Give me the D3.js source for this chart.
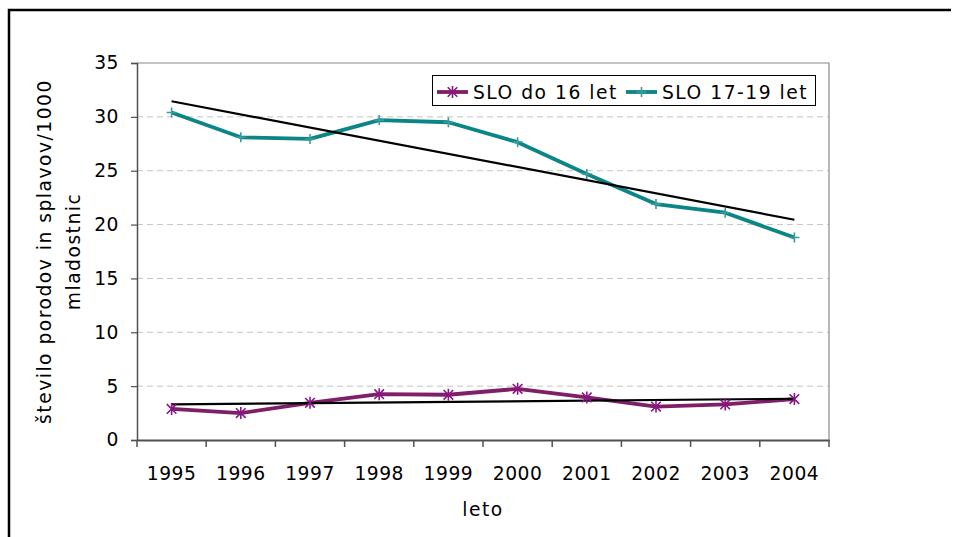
<!DOCTYPE html>
<html>
<head>
<meta charset="utf-8">
<script src="https://cdn.jsdelivr.net/npm/d3@7"></script>
<style>
  html, body { margin: 0; padding: 0; background: #ffffff; }
  svg { display: block; }
  text { font-family: "DejaVu Sans", Verdana, sans-serif; fill: #000; }
</style>
</head>
<body>
<svg id="chart" width="960" height="537"></svg>
<script>
// Years on the category axis
const years = ["1995", "1996", "1997", "1998", "1999", "2000", "2001", "2002", "2003", "2004"];

// Births and abortions per 1000 adolescents
const under16 = [2.88, 2.5, 3.45, 4.25, 4.2, 4.75, 3.95, 3.1, 3.3, 3.8];
const age17to19 = [30.4, 28.1, 27.95, 29.7, 29.5, 27.65, 24.7, 21.9, 21.1, 18.8];

// Linear trend lines: value at the first and at the last year
const trendUnder16 = [3.3, 3.83];
const trendAge17to19 = [31.45, 20.45];

// Value axis ticks
const yTicks = [0, 5, 10, 15, 20, 25, 30, 35];

// Legend labels
const seriesNames = ["SLO do 16 let", "SLO 17-19 let"];

const svg = d3.select("#chart");
const W = 960, H = 537;
const plot = { left: 137, right: 829, top: 63, bottom: 440 };
const fontSize = 18.7;
const wordSpacing = 1.5;   // letter spacing for words
const digitSpacing = 0.5;  // letter spacing for numbers

const purpleLine = "#7e1f68";
const purpleMark = "#8a1585";
const tealLine = "#0b8585";
const tealMark = "#3a9c9c";

// Outer frame (top and left edges)
svg.append("path")
  .attr("d", `M9,${H} L9,10 L951,10`)
  .attr("fill", "none")
  .attr("stroke", "#000")
  .attr("stroke-width", 2.5);

const x = d3.scaleBand().domain(years).range([plot.left, plot.right]).padding(0);
const cx = d => x(d) + x.bandwidth() / 2;
const y = d3.scaleLinear().domain([0, 35]).range([plot.bottom, plot.top]);

// Dashed gridlines
svg.append("g")
  .selectAll("line")
  .data(yTicks.filter(v => v > 0 && v < 35))
  .join("line")
  .attr("x1", plot.left).attr("x2", plot.right)
  .attr("y1", d => y(d)).attr("y2", d => y(d))
  .attr("stroke", "#c4c4c4")
  .attr("stroke-width", 1)
  .attr("stroke-dasharray", "6,4");

// Plot area border (top and right)
svg.append("path")
  .attr("d", `M${plot.left},${y(35)} L${plot.right},${y(35)} L${plot.right},${plot.bottom}`)
  .attr("fill", "none")
  .attr("stroke", "#8a8a8a")
  .attr("stroke-width", 1.2);

// Y axis
const yAxis = svg.append("g")
  .attr("transform", `translate(${plot.left},0)`)
  .call(d3.axisLeft(y).tickValues(yTicks).tickSize(6).tickPadding(12).tickFormat(d3.format("d")));
yAxis.select(".domain").attr("stroke", "#505050").attr("stroke-width", 1.5);
yAxis.selectAll(".tick line").attr("stroke", "#505050").attr("stroke-width", 1.2);
yAxis.selectAll(".tick text")
  .attr("font-size", fontSize)
  .attr("font-family", "DejaVu Sans, Verdana, sans-serif")
  .attr("letter-spacing", digitSpacing)
  .attr("fill", "#000");

// X axis: labels centred in each category, ticks on the boundaries
const xAxis = svg.append("g")
  .attr("transform", `translate(0,${plot.bottom})`)
  .call(d3.axisBottom(x).tickSize(0).tickPadding(0));
xAxis.select(".domain").attr("stroke", "#505050").attr("stroke-width", 2);
xAxis.selectAll(".tick text")
  .attr("font-size", fontSize)
  .attr("font-family", "DejaVu Sans, Verdana, sans-serif")
  .attr("letter-spacing", digitSpacing)
  .attr("fill", "#000")
  .attr("y", 40)
  .attr("dy", 0);
const boundaries = years.map(d => x(d)).concat([x(years[years.length - 1]) + x.bandwidth()]);
xAxis.append("g")
  .selectAll("line")
  .data(boundaries)
  .join("line")
  .attr("x1", d => d).attr("x2", d => d)
  .attr("y1", 0).attr("y2", 7)
  .attr("stroke", "#505050")
  .attr("stroke-width", 1.5);

// Axis titles
svg.append("text")
  .attr("x", (plot.left + plot.right) / 2)
  .attr("y", 516)
  .attr("text-anchor", "middle")
  .attr("font-size", fontSize)
  .attr("letter-spacing", wordSpacing)
  .text("leto");

const yMid = (plot.top + plot.bottom) / 2;
const yTitle = svg.append("g");
yTitle.append("text")
  .attr("transform", `translate(51,${yMid}) rotate(-90)`)
  .attr("text-anchor", "middle")
  .attr("font-size", fontSize)
  .attr("letter-spacing", wordSpacing)
  .text("število porodov in splavov/1000");
yTitle.append("text")
  .attr("transform", `translate(80,${yMid}) rotate(-90)`)
  .attr("text-anchor", "middle")
  .attr("font-size", fontSize)
  .attr("letter-spacing", wordSpacing)
  .text("mladostnic");

// Marker drawing helpers
function plusMarker(g, px, py, color, size) {
  g.append("path")
    .attr("d", `M${px - size},${py} L${px + size},${py} M${px},${py - size} L${px},${py + size}`)
    .attr("stroke", color).attr("stroke-width", 1.6).attr("fill", "none");
}
function starMarker(g, px, py, color, size) {
  const d = size * 0.8;
  g.append("path")
    .attr("d", `M${px},${py - size} L${px},${py + size} M${px - d},${py - d} L${px + d},${py + d} M${px - d},${py + d} L${px + d},${py - d}`)
    .attr("stroke", color).attr("stroke-width", 1.6).attr("fill", "none");
}

const line = d3.line().x(d => cx(d.year)).y(d => y(d.value));

// Series lines
const s16 = years.map((yr, i) => ({ year: yr, value: under16[i] }));
const s1719 = years.map((yr, i) => ({ year: yr, value: age17to19[i] }));

svg.append("path").datum(s16)
  .attr("d", line)
  .attr("fill", "none").attr("stroke", purpleLine)
  .attr("stroke-width", 3.8).attr("stroke-linejoin", "round");
svg.append("path").datum(s1719)
  .attr("d", line)
  .attr("fill", "none").attr("stroke", tealLine)
  .attr("stroke-width", 3.8).attr("stroke-linejoin", "round");

// Trend lines
const first = years[0], last = years[years.length - 1];
[trendUnder16, trendAge17to19].forEach(t => {
  svg.append("path")
    .datum([{ year: first, value: t[0] }, { year: last, value: t[1] }])
    .attr("d", line)
    .attr("fill", "none").attr("stroke", "#000").attr("stroke-width", 2.2);
});

// Markers
const markers = svg.append("g");
s16.forEach(d => starMarker(markers, cx(d.year), y(d.value), purpleMark, 6));
s1719.forEach(d => plusMarker(markers, cx(d.year), y(d.value), tealMark, 5));

// Legend
const legend = svg.append("g");
legend.append("rect")
  .attr("x", 432.5).attr("y", 75.5).attr("width", 383).attr("height", 30)
  .attr("fill", "#fff").attr("stroke", "#000").attr("stroke-width", 1);
const legendY = 92;
legend.append("line")
  .attr("x1", 437).attr("x2", 468).attr("y1", legendY).attr("y2", legendY)
  .attr("stroke", purpleLine).attr("stroke-width", 3.8);
starMarker(legend, 452.5, legendY, purpleMark, 6);
legend.append("text")
  .attr("x", 473).attr("y", 99)
  .attr("font-size", fontSize)
  .attr("letter-spacing", wordSpacing)
  .text(seriesNames[0]);
legend.append("line")
  .attr("x1", 626).attr("x2", 657).attr("y1", legendY).attr("y2", legendY)
  .attr("stroke", tealLine).attr("stroke-width", 3.8);
plusMarker(legend, 641.5, legendY, tealMark, 5);
legend.append("text")
  .attr("x", 662).attr("y", 99)
  .attr("font-size", fontSize)
  .attr("letter-spacing", wordSpacing)
  .text(seriesNames[1]);
</script>
</body>
</html>
